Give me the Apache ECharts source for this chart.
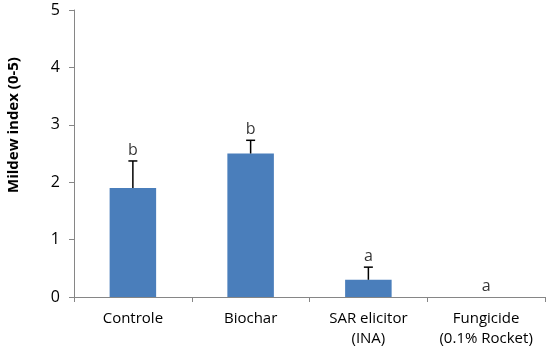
<!DOCTYPE html>
<html><head><meta charset="utf-8">
<script src="https://cdn.jsdelivr.net/npm/echarts@6/dist/echarts.min.js"></script>
<style>html,body{margin:0;padding:0;background:#fff}#c{width:550px;height:356px}</style>
</head><body><div id="c"></div>
<script>
const categories = ['Controle', 'Biochar', 'SAR elicitor\n(INA)', 'Fungicide\n(0.1% Rocket)'];
const values = [1.9, 2.5, 0.3, 0];
const errors = [0.47, 0.23, 0.22, 0];
const letters = ['b', 'b', 'a', 'a'];
const yTicks = [0, 1, 2, 3, 4, 5];
const yTitle = 'Mildew index (0-5)';

const chart = echarts.init(document.getElementById('c'));
const font = '"Open Sans", "Liberation Sans", sans-serif';
chart.setOption({
  animation: false,
  grid: { left: 74, right: 5, top: 10, bottom: 59 },
  graphic: [{
    type: 'text', x: 14, y: 125, rotation: Math.PI / 2,
    style: { text: yTitle, font: 'bold 15px ' + font, fill: '#000', align: 'center', verticalAlign: 'middle' }
  }],
  xAxis: {
    type: 'category', data: categories,
    axisLine: { lineStyle: { color: '#868686', width: 1 } },
    axisTick: { show: true, length: 5, lineStyle: { color: '#868686' } },
    axisLabel: { color: '#000', fontFamily: font, fontSize: 15, margin: 12, lineHeight: 20, interval: 0, hideOverlap: false }
  },
  yAxis: {
    type: 'value', min: yTicks[0], max: yTicks[yTicks.length - 1], interval: 1,
    axisLine: { show: true, lineStyle: { color: '#868686' } },
    axisTick: { show: true, length: 5, lineStyle: { color: '#868686' } },
    splitLine: { show: false },
    axisLabel: { color: '#000', fontFamily: font, fontSize: 16, margin: 14 }
  },
  series: [
    {
      type: 'bar', data: values, barWidth: '39.5%',
      itemStyle: { color: '#4a7ebb' }
    },
    {
      type: 'custom',
      data: values.map((v, i) => [i, v, errors[i]]),
      renderItem: function (params, api) {
        const i = api.value(0), v = api.value(1), e = api.value(2);
        if (e <= 0) return null;
        const p0 = api.coord([i, v]);
        const p1 = api.coord([i, v + e]);
        const style = { stroke: '#000', lineWidth: 1.5 };
        return { type: 'group', children: [
          { type: 'line', shape: { x1: p0[0], y1: p0[1], x2: p1[0], y2: p1[1] }, style },
          { type: 'line', shape: { x1: p1[0] - 4.5, y1: p1[1], x2: p1[0] + 4.5, y2: p1[1] }, style }
        ]};
      },
      z: 3
    },
    {
      type: 'scatter',
      data: values.map((v, i) => [i, v + errors[i]]),
      symbolSize: 0,
      label: {
        show: true, position: 'top', distance: 3,
        formatter: p => letters[p.dataIndex],
        color: '#000', fontFamily: font, fontSize: 16
      }
    }
  ]
});
</script></body></html>
